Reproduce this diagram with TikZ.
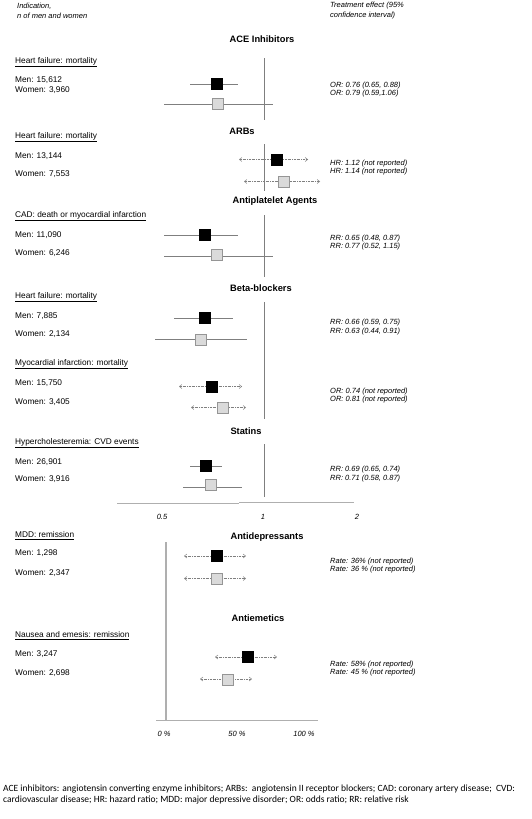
\documentclass[tikz,border=0pt]{standalone}
\usepackage{fontspec}
\setmainfont{Liberation Sans}
\newfontfamily\notefont{Carlito}
\usetikzlibrary{arrows.meta}

\definecolor{ciGray}{HTML}{7F7F7F}
\definecolor{axisGray}{HTML}{AFAFAF}
\definecolor{womenFill}{HTML}{DADADA}
\definecolor{womenLine}{HTML}{959595}

\begin{document}
\begin{tikzpicture}[x=1pt,y=-1pt,
  txt/.style={anchor=west,inner sep=0pt,font=\fontsize{8.3}{9}\selectfont},
  eff/.style={anchor=west,inner sep=0pt,font=\fontsize{7.5}{8}\selectfont\itshape},
  title/.style={inner sep=0pt,font=\fontsize{9.3}{10}\selectfont\bfseries},
  menbox/.style={draw=black,fill=black,minimum size=11pt,inner sep=0pt},
  womenbox/.style={draw=womenLine,fill=womenFill,minimum size=11pt,inner sep=0pt},
  ci/.style={ciGray,line width=0.7pt},
  na/.style={ciGray,line width=0.5pt,dash pattern=on 2pt off 1pt on 0.5pt off 1pt,
    {Straight Barb[length=2.5pt,width=4pt]}-{Straight Barb[length=2.5pt,width=4pt]}},
  refline/.style={ciGray,line width=0.7pt},
  axis/.style={axisGray,line width=0.9pt}]

\useasboundingbox (0,0) rectangle (532,819);

% headers
\node[eff] (ind1) at (17,6) {Indication,};
\node[eff] (ind2) at (17,16) {n of men and women};
\node[eff] (te1) at (330,6) {Treatment effect (95\%};
\node[eff] (te2) at (330,16) {confidence interval)};

% ACE inhibitors
\node[title] (ace) at (262,39) {ACE Inhibitors};
\node[txt] (ace-ind) at (15,62) {\underline{Heart failure: mortality}};
\node[txt] (ace-m) at (15,80) {Men: 15,612};
\node[txt] (ace-w) at (15,90) {Women: 3,960};
\draw[refline] (264,58) -- (264,120);
\draw[ci] (190,84) -- (238,84);
\node[menbox] (ace-mb) at (216.5,84) {};
\draw[ci] (164,104) -- (273,104);
\node[womenbox] (ace-wb) at (217.5,104) {};
\node[eff] (ace-e1) at (330,85.5) {OR: 0.76 (0.65, 0.88)};
\node[eff] (ace-e2) at (330,93.5) {OR: 0.79 (0.59,1.06)};

% ARBs
\node[title] (arb) at (242,131) {ARBs};
\node[txt] (arb-ind) at (15,137) {\underline{Heart failure: mortality}};
\node[txt] (arb-m) at (15,156) {Men: 13,144};
\node[txt] (arb-w) at (15,174) {Women: 7,553};
\draw[refline] (264,144) -- (264,191);
\draw[na] (239,159.5) -- (308,159.5);
\node[menbox] (arb-mb) at (276.5,159.5) {};
\draw[na] (244,181.5) -- (320,181.5);
\node[womenbox] (arb-wb) at (283.5,181.5) {};
\node[eff] (arb-e1) at (330,163.5) {HR: 1.12 (not reported)};
\node[eff] (arb-e2) at (330,172) {HR: 1.14 (not reported)};

% Antiplatelet agents
\node[title] (apa) at (275,201) {Antiplatelet Agents};
\node[txt] (apa-ind) at (15,216) {\underline{CAD: death or myocardial infarction}};
\node[txt] (apa-m) at (15,235) {Men: 11,090};
\node[txt] (apa-w) at (15,253) {Women: 6,246};
\draw[refline] (264,215) -- (264,277);
\draw[ci] (164,235) -- (238,235);
\node[menbox] (apa-mb) at (205,235) {};
\draw[ci] (164,256) -- (273,256);
\node[womenbox] (apa-wb) at (216.5,255) {};
\node[eff] (apa-e1) at (330,239) {RR: 0.65 (0.48, 0.87)};
\node[eff] (apa-e2) at (330,247) {RR: 0.77 (0.52, 1.15)};

% Beta-blockers
\node[title] (bb) at (261,288) {Beta-blockers};
\node[txt] (bb-ind) at (15,297) {\underline{Heart failure: mortality}};
\node[txt] (bb-m) at (15,316) {Men: 7,885};
\node[txt] (bb-w) at (15,334) {Women: 2,134};
\draw[refline] (264,302) -- (264,419);
\draw[ci] (174,318) -- (233,318);
\node[menbox] (bb-mb) at (205,318) {};
\draw[ci] (155,339) -- (247,339);
\node[womenbox] (bb-wb) at (200.5,339.5) {};
\node[eff] (bb-e1) at (330,323) {RR: 0.66 (0.59, 0.75)};
\node[eff] (bb-e2) at (330,332) {RR: 0.63 (0.44, 0.91)};

\node[txt] (mi-ind) at (15,364) {\underline{Myocardial infarction: mortality}};
\node[txt] (mi-m) at (15,383) {Men: 15,750};
\node[txt] (mi-w) at (15,402) {Women: 3,405};
\draw[na] (179,386.5) -- (242,386.5);
\node[menbox] (mi-mb) at (211.5,386.5) {};
\draw[na] (191,407.5) -- (246,407.5);
\node[womenbox] (mi-wb) at (222.5,407.5) {};
\node[eff] (mi-e1) at (330,392) {OR: 0.74 (not reported)};
\node[eff] (mi-e2) at (330,400) {OR: 0.81 (not reported)};

% Statins
\node[title] (sta) at (246,431) {Statins};
\node[txt] (sta-ind) at (15,443) {\underline{Hypercholesteremia: CVD events}};
\node[txt] (sta-m) at (15,462) {Men: 26,901};
\node[txt] (sta-w) at (15,479) {Women: 3,916};
\draw[refline] (264,444) -- (264,497);
\draw[ci] (190,466) -- (222,466);
\node[menbox] (sta-mb) at (206,465.5) {};
\draw[ci] (183,487) -- (242,487);
\node[womenbox] (sta-wb) at (211,485) {};
\node[eff] (sta-e1) at (330,470) {RR: 0.69 (0.65, 0.74)};
\node[eff] (sta-e2) at (330,479) {RR: 0.71 (0.58, 0.87)};

% ratio axis
\draw[axis] (117,503.5) -- (239,503.5);
\draw[axis] (239,502.5) -- (354,502.5);
\node[eff,anchor=center] (t05) at (162,517) {0.5};
\node[eff,anchor=center] (t1) at (263,517) {1};
\node[eff,anchor=center] (t2) at (357,517) {2};

% Antidepressants
\node[title] (adp) at (267,537) {Antidepressants};
\node[txt] (adp-ind) at (15,536) {\underline{MDD: remission}};
\node[txt] (adp-m) at (15,553) {Men: 1,298};
\node[txt] (adp-w) at (15,573) {Women: 2,347};
\draw[na] (184,556) -- (246,556);
\node[menbox] (adp-mb) at (216.5,556) {};
\draw[na] (184,578.5) -- (246,578.5);
\node[womenbox] (adp-wb) at (216.5,578.5) {};
\node[eff] (adp-e1) at (330,561.5) {Rate: 36\% (not reported)};
\node[eff] (adp-e2) at (330,569.5) {Rate: 36 \% (not reported)};

% Antiemetics
\node[title] (aem) at (258,618) {Antiemetics};
\node[txt] (aem-ind) at (15,636) {\underline{Nausea and emesis: remission}};
\node[txt] (aem-m) at (15,654) {Men: 3,247};
\node[txt] (aem-w) at (15,673) {Women: 2,698};
\draw[na] (215,657) -- (277,657);
\node[menbox] (aem-mb) at (247.5,657) {};
\draw[na] (200,679) -- (252,679);
\node[womenbox] (aem-wb) at (227.5,679.5) {};
\node[eff] (aem-e1) at (330,665) {Rate: 58\% (not reported)};
\node[eff] (aem-e2) at (330,673) {Rate: 45 \% (not reported)};

% rate axis
\draw[axis,line width=1.2pt] (166,542) -- (166,720);
\draw[axis] (156,720) -- (318,720);
\node[eff,anchor=center] (p0) at (164,734) {0 \%};
\node[eff,anchor=center] (p50) at (237,734) {50 \%};
\node[eff,anchor=center] (p100) at (304,734) {100 \%};

% abbreviations
\node[anchor=north west,inner sep=0pt,align=left,
  font=\notefont\fontsize{9.5}{10.2}\selectfont] (note) at (3,785)
  {ACE inhibitors: angiotensin converting enzyme inhibitors; ARBs:\ \ angiotensin II receptor blockers; CAD: coronary artery disease;\ \ CVD:\\
   cardiovascular disease; HR: hazard ratio; MDD: major depressive disorder; OR: odds ratio; RR: relative risk};

\end{tikzpicture}
\end{document}
